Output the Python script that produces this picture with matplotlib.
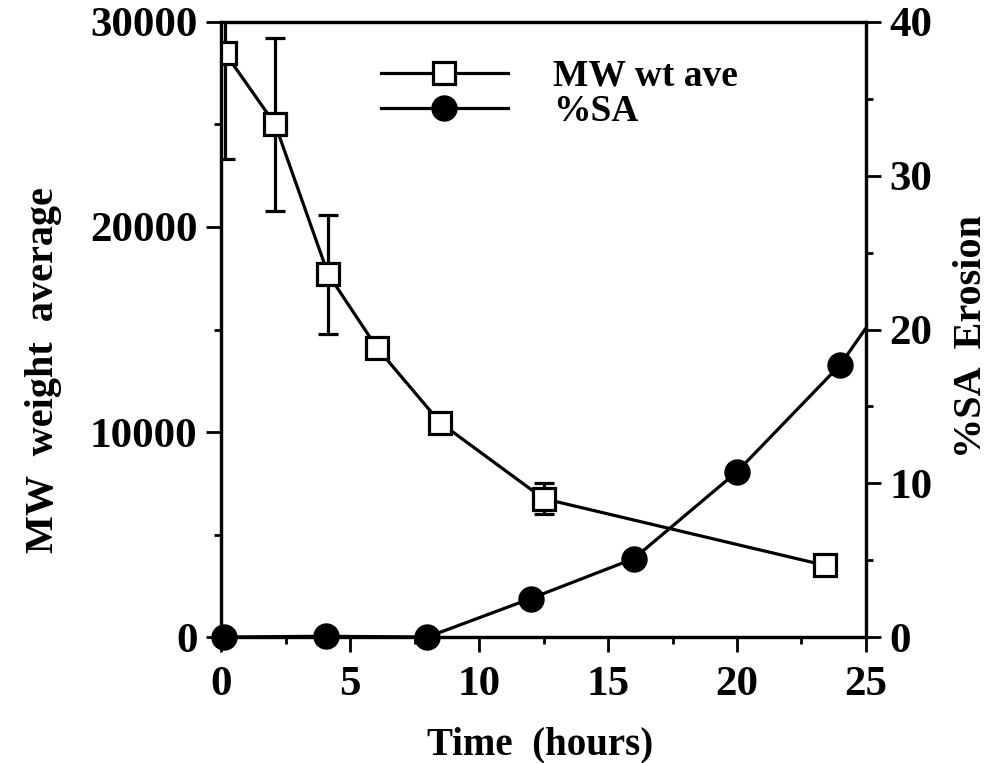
import matplotlib
matplotlib.use("Agg")
import matplotlib.pyplot as plt
from matplotlib.lines import Line2D
from matplotlib.ticker import MultipleLocator

# MW weight average (left axis)
mw_time = [0.15, 2.1, 4.15, 6.05, 8.5, 12.5, 23.4]
mw_value = [28500, 25000, 17700, 14100, 10450, 6750, 3500]
mw_err = [5200, 4200, 2900, 0, 0, 750, 0]

# %SA erosion (right axis); last point is the line end without marker
sa_time = [0.1, 4.05, 8.0, 12.0, 16.0, 20.0, 24.0, 25.0]
sa_value = [0.0, 0.05, 0.0, 2.5, 5.1, 10.75, 17.7, 20.1]
n_sa_markers = 7

plt.rcParams['font.family'] = ['Liberation Serif', 'DejaVu Serif']
plt.rcParams['font.weight'] = 'bold'

fig = plt.figure(figsize=(9.97, 7.63), dpi=100)
ax1 = fig.add_axes([0.2217, 0.1651, 0.6469, 0.8061])
ax2 = ax1.twinx()

lw = 2.3
ax1.errorbar(mw_time, mw_value, yerr=mw_err, color='black', linewidth=lw,
             elinewidth=lw, capsize=7, capthick=lw, marker='s', markersize=16,
             markerfacecolor='white', markeredgecolor='black',
             markeredgewidth=lw, zorder=3)
ax2.plot(sa_time, sa_value, color='black', linewidth=lw)
ax2.plot(sa_time[:n_sa_markers], sa_value[:n_sa_markers], linestyle='none',
         marker='o', markersize=18, color='black', clip_on=False)

ax1.set_xlim(0, 25)
ax1.set_ylim(0, 30000)
ax2.set_ylim(0, 40)
ax1.xaxis.set_major_locator(MultipleLocator(5))
ax1.xaxis.set_minor_locator(MultipleLocator(2.5))
ax1.yaxis.set_major_locator(MultipleLocator(10000))
ax1.yaxis.set_minor_locator(MultipleLocator(5000))
ax2.yaxis.set_major_locator(MultipleLocator(10))
ax2.yaxis.set_minor_locator(MultipleLocator(5))

for ax in (ax1, ax2):
    for s in ax.spines.values():
        s.set_linewidth(lw)
    ax.tick_params(which='major', direction='out', length=11, width=2,
                   labelsize=31, pad=6)
    ax.tick_params(which='minor', direction='out', length=5, width=2)
ax1.tick_params(axis='x', which='major', pad=10)

ax1.set_xlabel('Time  (hours)', fontsize=28, fontweight='bold', va='center')
ax1.xaxis.set_label_coords(0.495, -0.176)
ax1.set_ylabel('MW  weight  average', fontsize=29, fontweight='bold', va='center')
ax1.yaxis.set_label_coords(-0.275, 0.434)
ax2.set_ylabel('%SA  Erosion', fontsize=29, fontweight='bold', va='center')
ax2.yaxis.set_label_coords(1.163, 0.488)

handles = [
    Line2D([], [], color='black', linewidth=lw, marker='s', markersize=16,
           markerfacecolor='white', markeredgewidth=lw),
    Line2D([], [], color='black', linewidth=lw, marker='o', markersize=18),
]
leg = ax1.legend(handles, ['MW wt ave', '%SA'], loc='upper left',
                 bbox_to_anchor=(0.195, 0.995), frameon=False, fontsize=27,
                 handlelength=3.4, handletextpad=1.2, labelspacing=0.0)

fig.savefig('out.png', dpi=100)
